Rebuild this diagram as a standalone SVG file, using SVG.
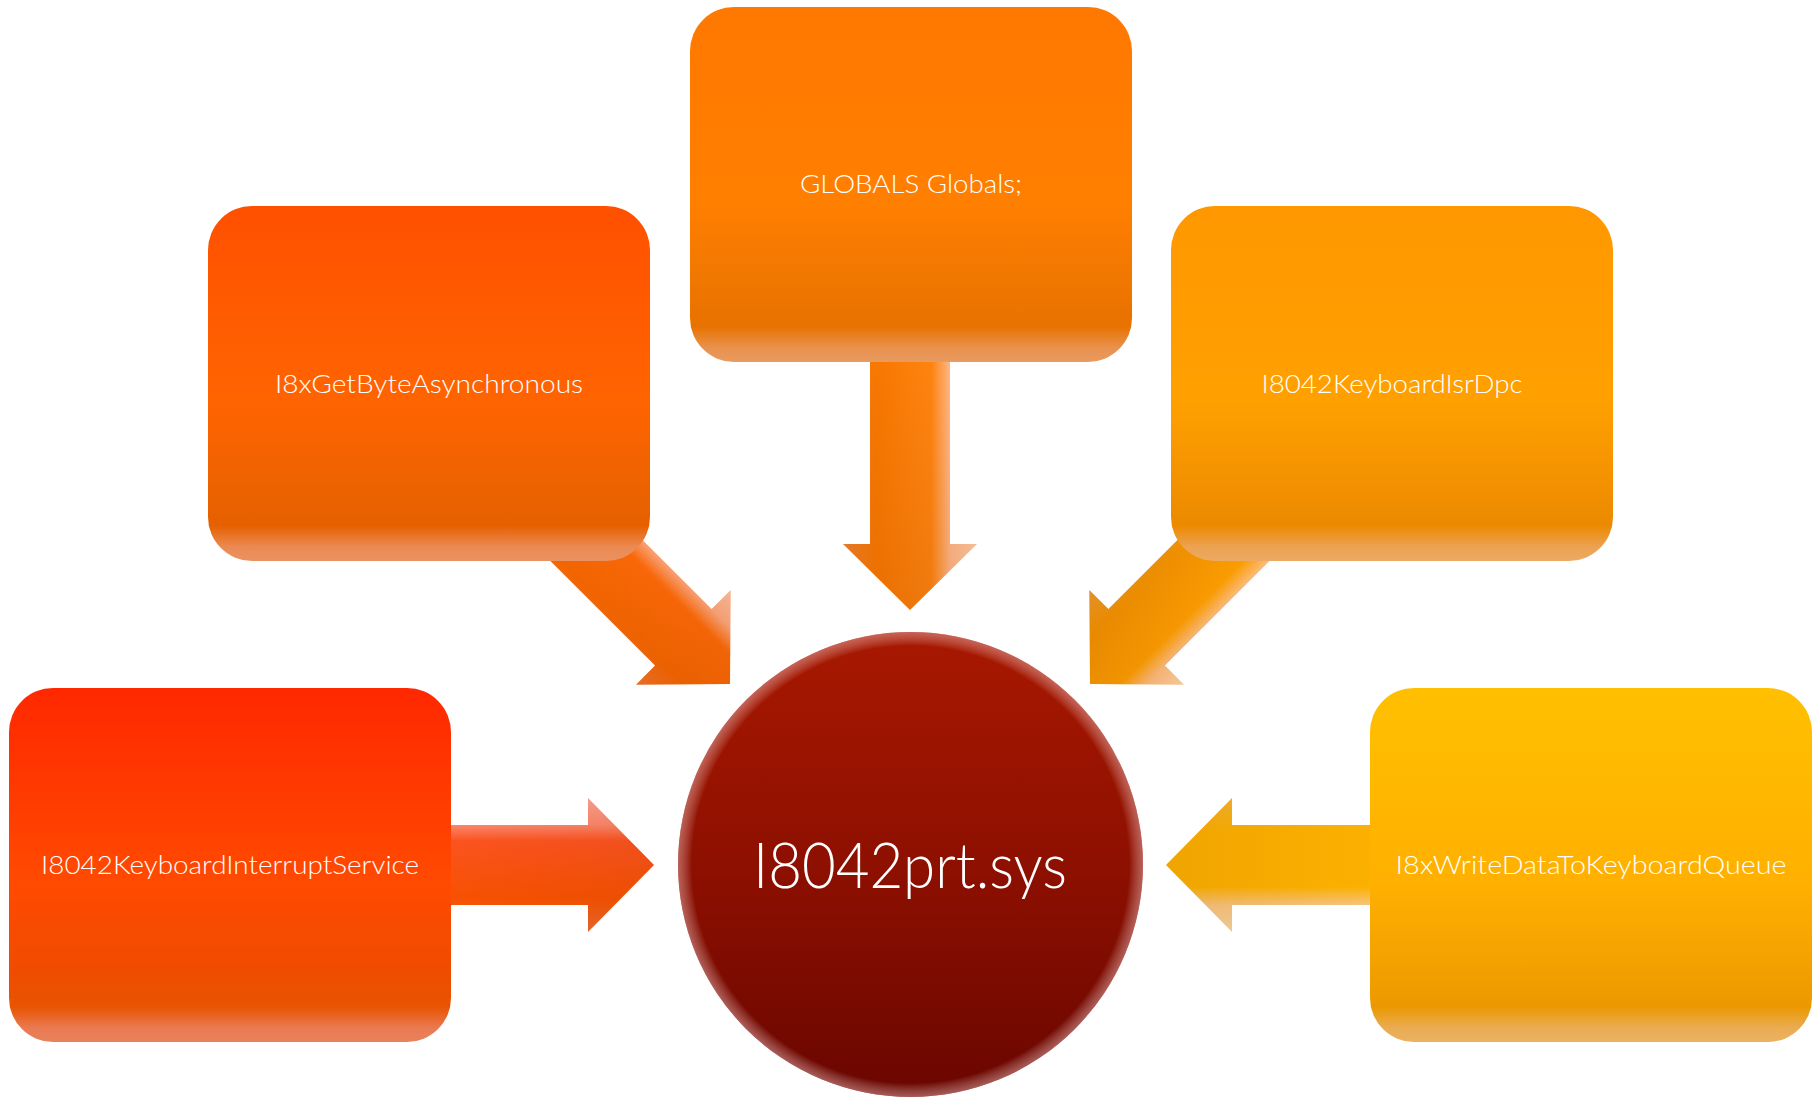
<svg xmlns="http://www.w3.org/2000/svg" width="1814" height="1098" viewBox="0 0 1814 1098">
<style>
  .lbl { font-family: "Lato", "Liberation Sans", sans-serif; font-weight: 300; fill: #ffffff; font-size: 26px; text-anchor: middle; }
  .big { font-size: 64px; }
</style>
<defs>
  <linearGradient id="gA" x1="0" y1="0" x2="0" y2="1">
    <stop offset="0" stop-color="#FF2800"/><stop offset="0.55" stop-color="#FF4A00"/>
    <stop offset="0.8" stop-color="#EF4C00"/><stop offset="0.9" stop-color="#E85400"/>
    <stop offset="0.96" stop-color="#EA7A50"/><stop offset="1" stop-color="#E8825E"/>
  </linearGradient>
  <linearGradient id="gB" x1="0" y1="0" x2="0" y2="1">
    <stop offset="0" stop-color="#FF5000"/><stop offset="0.55" stop-color="#FF6400"/>
    <stop offset="0.8" stop-color="#EC6200"/><stop offset="0.9" stop-color="#E66000"/>
    <stop offset="0.96" stop-color="#EA8A52"/><stop offset="1" stop-color="#EA9262"/>
  </linearGradient>
  <linearGradient id="gC" x1="0" y1="0" x2="0" y2="1">
    <stop offset="0" stop-color="#FF7800"/><stop offset="0.55" stop-color="#FF7F00"/>
    <stop offset="0.8" stop-color="#EE7600"/><stop offset="0.9" stop-color="#E87200"/>
    <stop offset="0.96" stop-color="#E8924E"/><stop offset="1" stop-color="#E89A60"/>
  </linearGradient>
  <linearGradient id="gD" x1="0" y1="0" x2="0" y2="1">
    <stop offset="0" stop-color="#FF9800"/><stop offset="0.55" stop-color="#FFA000"/>
    <stop offset="0.8" stop-color="#F29000"/><stop offset="0.9" stop-color="#EC8A00"/>
    <stop offset="0.96" stop-color="#ECA252"/><stop offset="1" stop-color="#ECAA62"/>
  </linearGradient>
  <linearGradient id="gE" x1="0" y1="0" x2="0" y2="1">
    <stop offset="0" stop-color="#FFC000"/><stop offset="0.55" stop-color="#FFB000"/>
    <stop offset="0.8" stop-color="#F2A000"/><stop offset="0.9" stop-color="#EC9800"/>
    <stop offset="0.96" stop-color="#EAAC52"/><stop offset="1" stop-color="#EAB262"/>
  </linearGradient>
  <linearGradient id="gCircle" x1="0" y1="0" x2="0" y2="1">
    <stop offset="0" stop-color="#A81800"/><stop offset="0.5" stop-color="#8E1000"/><stop offset="1" stop-color="#6A0600"/>
  </linearGradient>
  <radialGradient id="gRim" cx="0.5" cy="0.5" r="0.5">
    <stop offset="0.94" stop-color="#ffffff" stop-opacity="0"/>
    <stop offset="1" stop-color="#F0C0C0" stop-opacity="0.45"/>
  </radialGradient>
  <linearGradient id="aA" gradientUnits="userSpaceOnUse" x1="0" y1="-67" x2="0" y2="67">
    <stop offset="0" stop-color="#FFA898"/><stop offset="0.2" stop-color="#FF8A70"/>
    <stop offset="0.32" stop-color="#FF5420"/><stop offset="0.75" stop-color="#FA5200"/><stop offset="1" stop-color="#EE6A30"/>
  </linearGradient>
  <linearGradient id="aC" gradientUnits="userSpaceOnUse" x1="0" y1="-67" x2="0" y2="67">
    <stop offset="0" stop-color="#FFCCA8"/><stop offset="0.2" stop-color="#FFB888"/>
    <stop offset="0.34" stop-color="#FF8410"/><stop offset="0.75" stop-color="#F87800"/><stop offset="1" stop-color="#EE8030"/>
  </linearGradient>
  <linearGradient id="aB" gradientUnits="userSpaceOnUse" x1="0" y1="-67" x2="0" y2="67">
    <stop offset="0" stop-color="#FFC4A4"/><stop offset="0.2" stop-color="#FFAA80"/>
    <stop offset="0.34" stop-color="#FF6A08"/><stop offset="0.75" stop-color="#F66600"/><stop offset="1" stop-color="#EE7430"/>
  </linearGradient>
  <linearGradient id="aD" gradientUnits="userSpaceOnUse" x1="0" y1="-67" x2="0" y2="67">
    <stop offset="0" stop-color="#FFD8A8"/><stop offset="0.2" stop-color="#FFC080"/>
    <stop offset="0.34" stop-color="#FFA000"/><stop offset="0.75" stop-color="#F49400"/><stop offset="1" stop-color="#EE9A30"/>
  </linearGradient>
  <linearGradient id="aE" gradientUnits="userSpaceOnUse" x1="0" y1="-67" x2="0" y2="67">
    <stop offset="0" stop-color="#F8D8A4"/><stop offset="0.2" stop-color="#FAC880"/>
    <stop offset="0.34" stop-color="#FFB400"/><stop offset="0.75" stop-color="#FFB400"/><stop offset="1" stop-color="#F6B830"/>
  </linearGradient>
  <linearGradient id="aShade" gradientUnits="userSpaceOnUse" x1="-260" y1="0" x2="0" y2="0">
    <stop offset="0" stop-color="#803000" stop-opacity="0"/>
    <stop offset="1" stop-color="#803000" stop-opacity="0.12"/>
  </linearGradient>
  <path id="arrowShape" d="M -260,-40 L -66,-40 L -66,-67 L 0,0 L -66,67 L -66,40 L -260,40 Z"/>
</defs>

<g id="connectors">
  <g transform="translate(654,865)">
    <use href="#arrowShape" fill="url(#aA)"/>
    <use href="#arrowShape" fill="url(#aShade)"/>
  </g>
  <g transform="translate(730,684) rotate(45)">
    <use href="#arrowShape" fill="url(#aB)"/>
    <use href="#arrowShape" fill="url(#aShade)"/>
  </g>
  <g transform="translate(910,610) rotate(90)">
    <use href="#arrowShape" fill="url(#aC)"/>
    <use href="#arrowShape" fill="url(#aShade)"/>
  </g>
  <g transform="translate(1090,684) rotate(135)">
    <use href="#arrowShape" fill="url(#aD)"/>
    <use href="#arrowShape" fill="url(#aShade)"/>
  </g>
  <g transform="translate(1166,865) rotate(180)">
    <use href="#arrowShape" fill="url(#aE)"/>
    <use href="#arrowShape" fill="url(#aShade)"/>
  </g>
</g>

<g id="node-interrupt-service">
  <rect x="9" y="688" width="442" height="354" rx="44" fill="url(#gA)"/>
  <text class="lbl" x="230" y="874" textLength="378" lengthAdjust="spacingAndGlyphs">I8042KeyboardInterruptService</text>
</g>
<g id="node-get-byte">
  <rect x="208" y="206" width="442" height="355" rx="44" fill="url(#gB)"/>
  <text class="lbl" x="429" y="393" textLength="308" lengthAdjust="spacingAndGlyphs">I8xGetByteAsynchronous</text>
</g>
<g id="node-globals">
  <rect x="690" y="7" width="442" height="355" rx="44" fill="url(#gC)"/>
  <text class="lbl" x="911" y="193" textLength="222" lengthAdjust="spacingAndGlyphs">GLOBALS Globals;</text>
</g>
<g id="node-isr-dpc">
  <rect x="1171" y="206" width="442" height="355" rx="44" fill="url(#gD)"/>
  <text class="lbl" x="1392" y="393" textLength="261" lengthAdjust="spacingAndGlyphs">I8042KeyboardIsrDpc</text>
</g>
<g id="node-write-queue">
  <rect x="1370" y="688" width="442" height="354" rx="44" fill="url(#gE)"/>
  <text class="lbl" x="1591" y="874" textLength="391" lengthAdjust="spacingAndGlyphs">I8xWriteDataToKeyboardQueue</text>
</g>
<g id="node-center">
  <circle cx="910.5" cy="864.5" r="232.5" fill="url(#gCircle)"/>
  <circle cx="910.5" cy="864.5" r="232.5" fill="url(#gRim)"/>
  <text class="lbl big" x="910" y="888" textLength="314" lengthAdjust="spacingAndGlyphs">I8042prt.sys</text>
</g>
</svg>
